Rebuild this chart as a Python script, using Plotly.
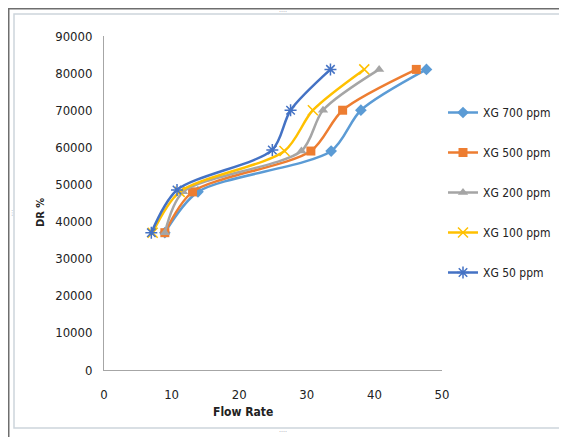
import plotly.graph_objects as go

# ---- data ----
dr_levels = [37000, 48000, 59000, 70000, 81000]
series_names = ["XG 700 ppm", "XG 500 ppm", "XG 200 ppm", "XG 100 ppm", "XG 50 ppm"]
flow_xg700 = [9.0, 13.9, 33.6, 38.0, 47.7]
flow_xg500 = [9.0, 13.1, 30.6, 35.3, 46.2]
flow_xg200 = [9.0, 11.7, 29.2, 32.4, 40.7]
flow_xg100 = [7.2, 11.2, 26.7, 30.9, 38.5]
flow_xg50 = [7.0, 10.8, 24.9, 27.6, 33.5]
dr_xg50 = [37000, 48500, 59300, 70000, 81000]
x_ticks = [0, 10, 20, 30, 40, 50]
y_ticks = [0, 10000, 20000, 30000, 40000, 50000, 60000, 70000, 80000, 90000]

colors = ["#5B9BD5", "#ED7D31", "#A5A5A5", "#FFC000", "#4472C4"]
symbols = ["diamond", "square", "triangle-up", "x-thin-open", "asterisk-open"]
flows = [flow_xg700, flow_xg500, flow_xg200, flow_xg100, flow_xg50]
drs = [dr_levels, dr_levels, dr_levels, dr_levels, dr_xg50]

FONT = "DejaVu Sans Condensed, DejaVu Sans, Liberation Sans, sans-serif"

fig = go.Figure()
for i, name in enumerate(series_names):
    open_sym = symbols[i].endswith("open")
    fig.add_trace(go.Scatter(
        x=flows[i], y=drs[i], name=name, mode="lines+markers",
        legendgroup=name,
        line=dict(color=colors[i], width=2.5, shape="spline", smoothing=0.8),
        marker=dict(symbol=symbols[i], size=9 if not open_sym else 10,
                    color=colors[i],
                    line=dict(color=colors[i], width=1.5 if open_sym else 0)),
    ))

# page body has an 8px margin: figure is drawn offset by (8, 8)
OFF = 8
W, H = 567 - OFF, 437 - OFF
# plot area in reference-window pixels
L, R, T, B = 104, 442, 36, 370

def px(xp):
    return (xp - L) / (R - L)

def py(yp):
    return (B - yp) / (B - T)

shapes = [
    dict(type="rect", xref="paper", yref="paper",
         x0=px(14), x1=px(563), y0=py(428), y1=py(14),
         line=dict(color="#CDD5DC", width=1.5), layer="below"),
    dict(type="line", xref="paper", yref="paper",
         x0=px(8), x1=px(567), y0=py(8.5), y1=py(8.5),
         line=dict(color="#6E6E6E", width=2)),
    dict(type="line", xref="paper", yref="paper",
         x0=px(8.5), x1=px(8.5), y0=py(8), y1=py(437),
         line=dict(color="#6E6E6E", width=2)),
]

annotations = [
    dict(text="<b>Flow Rate</b>", xref="paper", yref="paper",
         x=px(243), y=py(412), xanchor="center", yanchor="middle", showarrow=False,
         font=dict(family=FONT, size=12, color="#222222")),
    dict(text="<b>DR %</b>", xref="paper", yref="paper",
         x=px(40), y=py(213), xanchor="center", yanchor="middle",
         showarrow=False, textangle=-90,
         font=dict(family=FONT, size=11, color="#222222")),
]
for (hx, hy, t) in [(283, 12, "····"), (283, 432, "····"), (12, 213, "⋮"), (563, 213, "⋮")]:
    annotations.append(dict(text=t, xref="paper", yref="paper",
                            x=px(hx), y=py(hy), xanchor="center", yanchor="middle",
                            showarrow=False,
                            font=dict(size=7, color="#9AA4AC")))

fig.update_layout(
    width=W, height=H,
    margin=dict(l=L - OFF, r=W - (R - OFF), t=T - OFF, b=H - (B - OFF), autoexpand=False),
    paper_bgcolor="white", plot_bgcolor="white",
    font=dict(family=FONT, size=12, color="#222222"),
    showlegend=True,
    legend=dict(x=px(443), y=py(98), xanchor="left", yanchor="top",
                tracegroupgap=21, itemwidth=30,
                font=dict(family=FONT, size=12, color="#222222"),
                bgcolor="rgba(0,0,0,0)"),
    xaxis=dict(range=[0, 50], tickvals=x_ticks, showgrid=False, zeroline=False,
               showline=True, linecolor="#A6A6A6", linewidth=1,
               ticks="outside", ticklen=0, tickcolor="white", automargin=False,
               ticklabelstandoff=12, tickfont=dict(family=FONT, size=13)),
    yaxis=dict(range=[0, 90000], tickvals=y_ticks, tickformat="d",
               showgrid=False, zeroline=False,
               showline=True, linecolor="#A6A6A6", linewidth=1,
               ticks="outside", ticklen=0, tickcolor="white", automargin=False,
               ticklabelstandoff=8, tickfont=dict(family=FONT, size=13)),
    shapes=shapes, annotations=annotations,
)

fig.write_html("out.html")
